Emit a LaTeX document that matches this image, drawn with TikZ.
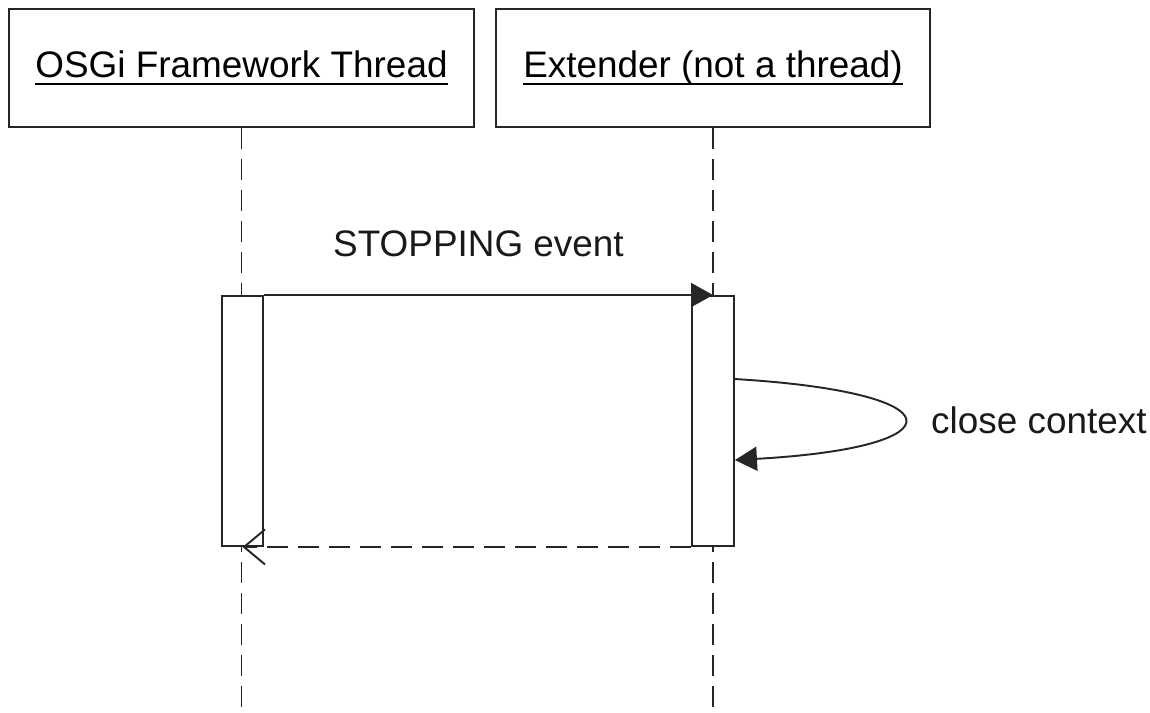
\documentclass[tikz,border=0pt]{standalone}
\usepackage{fontspec}
\setmainfont{Liberation Sans}
\usepackage{tikz}
\usetikzlibrary{
        arrows.meta,
        calc,
        positioning
    }
\newcommand{\lifename}[1]{\setbox0\hbox{#1}\rlap{\rule[-4.4pt]{\wd0}{1pt}}\box0}
\tikzset{
    lifebox/.style={draw=black!85,line width=1.1pt,fill=white,minimum height=2.36cm,
        inner sep=0pt,font=\fontsize{21}{25}\selectfont},
    actbox/.style={draw=black!85,line width=1.1pt,fill=white,minimum width=0.82cm,
        minimum height=5cm,inner sep=0pt},
    lifeline/.style={draw=black!85,line width=1.1pt,dash pattern=on 0.42cm off 0.2cm},
    msg/.style={draw=black!85,line width=1.1pt,-{Triangle[length=0.44cm,width=0.48cm]}},
    ret/.style={draw=black!85,line width=1.1pt,dash pattern=on 0.42cm off 0.2cm,
        -{Straight Barb[length=0.42cm,width=0.7cm,line width=1.1pt]}},
    lbl/.style={font=\fontsize{21}{25}\selectfont,text=black!90}
}

\begin{document}
\begin{tikzpicture}
        \useasboundingbox (0,0) rectangle (23,-14.26);
        % actors
        \node[lifebox,minimum width=9.3cm] (osgi) at (4.83,-1.36) {\lifename{OSGi Framework Thread}};
        \node[lifebox,minimum width=8.68cm] (ext) at (14.26,-1.36) {\lifename{Extender (not a thread)}};
        \coordinate (osgiend) at (osgi.south |- 0,-14.26);
        \coordinate (extend) at (ext.south |- 0,-14.26);
        \path[lifeline]
                (osgi.south) -- (osgiend)
                (ext.south) -- (extend);
        % activations
        \node[actbox] (act1) at (4.85,-8.42) {};
        \node[actbox,minimum width=0.84cm] (act2) at (14.26,-8.42) {};
        \coordinate (loopout) at ([yshift=-1.68cm]act2.north east);
        \coordinate (loopin) at ([yshift=-3.3cm]act2.north east);
        \node[lbl,anchor=west] (closelbl) at (18.5,-8.4) {close context};
        % messages
        \path[msg] (act1.north east) -- node[lbl,midway,above=0.62cm,xshift=-0.2cm] {STOPPING event} (act2.north);
        \path[msg] (loopout) .. controls (19.2,-7.85) and (19.2,-8.95) .. (loopin);
        \path[ret] (act2.south west) -- (act1.south);
\end{tikzpicture}
\end{document}
